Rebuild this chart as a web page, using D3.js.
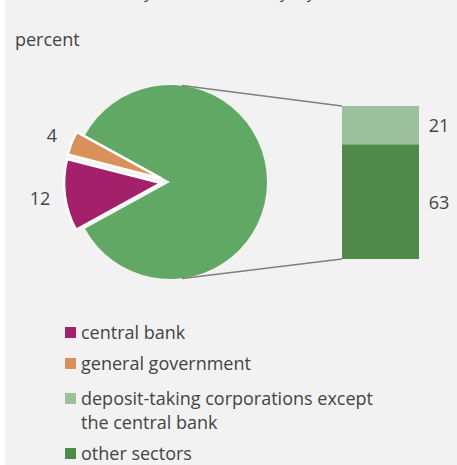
<!DOCTYPE html>
<html><head><meta charset="utf-8">
<script src="https://cdn.jsdelivr.net/npm/d3@7"></script>
<style>
html,body{margin:0;padding:0;background:#fff;}
svg{display:block;}
text{font-family:"Open Sans","Noto Sans",sans-serif;fill:#444;}
</style></head>
<body>
<script>
const title = "Debt securities by residual maturity, by holder sector";
const unitLabel = "percent";
const pieCategories = ["other sectors (total)", "central bank", "general government"];
const pieValues = [84, 12, 4];
const barCategories = ["other sectors", "deposit-taking corporations except the central bank"];
const barValues = [63, 21];
const legendLabels = [["central bank"], ["general government"], ["deposit-taking corporations except", "the central bank"], ["other sectors"]];
const colors = {pieOther:"#62a865", central:"#a5206a", gov:"#d9905a", deposit:"#9bc09b", other:"#4f8a4b"};

const W = 457, H = 465;
const svg = d3.select("body").append("svg").attr("width", W).attr("height", H);
svg.append("rect").attr("x",5).attr("y",0).attr("width",W-5).attr("height",H).attr("fill","#f2f2f2");

svg.append("text").attr("x",15).attr("y",-2).attr("font-size",16.5).text(title);
svg.append("text").attr("x",15).attr("y",46).attr("font-size",18).text(unitLabel);

// Pie
const cx = 170, cy = 182, R = 97;
const pie = d3.pie().sort(null)
  .startAngle(-61.2*Math.PI/180).endAngle((360-61.2)*Math.PI/180);
const arcs = pie(pieValues);
const arc = d3.arc().innerRadius(0).outerRadius(R);
const pieColors = [colors.pieOther, colors.central, colors.gov];
const explode = [0, 9, 9];
const g = svg.append("g").attr("transform",`translate(${cx},${cy})`);
arcs.forEach((a,i)=>{
  const mid = (a.startAngle+a.endAngle)/2;
  const dx = Math.sin(mid)*explode[i], dy = -Math.cos(mid)*explode[i];
  g.append("path").attr("d", arc(a)).attr("transform",`translate(${dx},${dy})`)
    .attr("fill", pieColors[i]).attr("stroke","#fff").attr("stroke-width", i===0?0:2.5);
});
// labels for small slices
const labelPos = [null, 1.35, 1.31];
arcs.forEach((a,i)=>{
  if(i===0) return;
  const mid = (a.startAngle+a.endAngle)/2;
  const r = R*labelPos[i];
  g.append("text").attr("x", Math.sin(mid)*r).attr("y", -Math.cos(mid)*r)
   .attr("text-anchor","middle").attr("dominant-baseline","central").attr("font-size",18)
   .text(pieValues[i]);
});

// Bar
const barX = 342, barW = 77, barBottom = 259;
const total = d3.sum(barValues);
const y = d3.scaleLinear().domain([0,total]).range([barBottom, barBottom-153]);
const barColors = [colors.other, colors.deposit];
let acc = 0;
barValues.forEach((v,i)=>{
  const y0 = y(acc), y1 = y(acc+v);
  svg.append("rect").attr("x",barX).attr("y",y1).attr("width",barW).attr("height",y0-y1).attr("fill",barColors[i]);
  svg.append("text").attr("x",439).attr("y",(y0+y1)/2).attr("text-anchor","middle")
    .attr("dominant-baseline","central").attr("font-size",18).text(v);
  acc += v;
});
// connectors
svg.append("line").attr("x1",cx+12).attr("y1",cy-R+0.5).attr("x2",barX).attr("y2",y(total))
  .attr("stroke","#7f7f7f").attr("stroke-width",1.5);
svg.append("line").attr("x1",cx+12).attr("y1",cy+R-0.5).attr("x2",barX).attr("y2",y(0))
  .attr("stroke","#7f7f7f").attr("stroke-width",1.5);

// Legend
const legColors = [colors.central, colors.gov, colors.deposit, colors.other];
const legY = [332, 363, 398, 453];
legendLabels.forEach((lines,i)=>{
  svg.append("rect").attr("x",65).attr("y",legY[i]-5).attr("width",11).attr("height",11).attr("fill",legColors[i]);
  lines.forEach((t,j)=>{
    svg.append("text").attr("x",81).attr("y",legY[i]+j*24).attr("dominant-baseline","central")
      .attr("font-size",18).text(t);
  });
});
</script>
</body></html>
